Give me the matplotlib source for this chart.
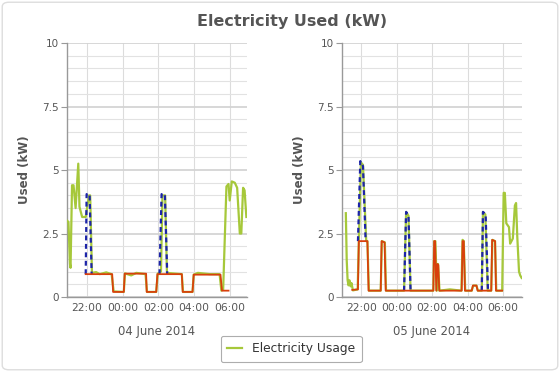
import matplotlib
matplotlib.use('Agg')
import matplotlib.pyplot as plt
import matplotlib.dates as mdates
from matplotlib.patches import FancyBboxPatch
from matplotlib.ticker import MultipleLocator, FixedLocator, FixedFormatter
import numpy as np
import pandas as pd

plt.rcParams['font.family'] = ['DejaVu Sans']

# ---- data (clock times, kW) ----
# night ending 04 June 2014
left_usage_t = ['20:54', '20:58', '21:03', '21:05', '21:10', '21:15', '21:22', '21:31', '21:35',
                '21:44', '21:56', '22:07', '22:11', '22:17', '22:31', '22:43', '23:05', '23:23',
                '23:30', '00:04', '00:08', '00:29', '00:46', '01:17', '01:22', '01:53', '01:58',
                '02:09', '02:14', '02:23', '02:29', '02:49', '03:19', '03:23', '03:55', '03:59',
                '04:13', '04:53', '05:26', '05:32', '05:38', '05:49', '05:56', '06:00', '06:07',
                '06:17', '06:25', '06:34', '06:39', '06:45', '06:50', '06:56']
left_usage_v = [3.0, 2.95, 1.3, 1.15, 4.4, 4.4, 3.5, 5.25, 3.55,
                3.15, 3.15, 4.0, 4.0, 0.95, 0.98, 0.9, 0.97, 0.9,
                0.22, 0.2, 0.93, 0.85, 0.95, 0.9, 0.2, 0.2, 0.92,
                1.0, 4.0, 4.0, 0.95, 0.93, 0.9, 0.2, 0.2, 0.88,
                0.95, 0.9, 0.9, 0.25, 0.3, 4.35, 4.45, 3.8, 4.55,
                4.5, 4.3, 2.5, 2.5, 4.3, 4.2, 3.15]
left_base_t = ['21:56', '23:25', '23:28', '00:04', '00:07', '01:19', '01:21', '01:53', '01:57',
               '03:19', '03:22', '03:55', '03:59', '05:29', '05:34', '05:56']
left_base_v = [0.9, 0.9, 0.2, 0.2, 0.92, 0.92, 0.2, 0.2, 0.9,
               0.9, 0.2, 0.2, 0.88, 0.88, 0.25, 0.25]
left_peak_t = ['21:56', '21:59', '22:09', '22:16', None, '02:04', '02:11', '02:22', '02:30']
left_peak_v = [0.9, 4.05, 4.05, 0.9, None, 0.9, 4.05, 4.05, 0.9]

# night ending 05 June 2014
right_usage_t = ['21:08', '21:11', '21:14', '21:17', '21:20', '21:24', '21:27', '21:32', '21:48',
                 '21:52', '21:59', '22:06', '22:17', '22:21', '22:26', '23:06', '23:10', '23:20',
                 '23:24', '00:25', '00:32', '00:40', '00:47', '02:04', '02:07', '02:11', '02:16',
                 '02:20', '02:25', '03:00', '03:39', '03:43', '03:47', '03:52', '04:14', '04:19',
                 '04:30', '04:35', '04:48', '04:52', '05:00', '05:08', '05:20', '05:24', '05:33',
                 '05:37', '05:57', '06:02', '06:06', '06:11', '06:20', '06:24', '06:33', '06:40',
                 '06:44', '06:48', '06:54', '06:58', '07:03']
right_usage_v = [3.3, 1.45, 0.66, 0.46, 0.66, 0.42, 0.55, 0.26, 0.3,
                 2.2, 5.3, 5.2, 2.2, 2.2, 0.25, 0.25, 2.2, 2.15,
                 0.25, 0.25, 3.35, 3.2, 0.25, 0.25, 2.2, 2.2, 0.25,
                 1.3, 0.25, 0.3, 0.25, 2.25, 2.2, 0.25, 0.25, 0.45,
                 0.45, 0.25, 0.25, 3.35, 3.25, 0.25, 0.25, 2.25, 2.2,
                 0.25, 0.25, 4.1, 4.1, 2.9, 2.75, 2.1, 2.3, 3.6,
                 3.7, 2.4, 1.0, 0.85, 0.75]
right_base_t = ['21:30', '21:49', '21:52', '22:21', '22:25', '23:06', '23:09', '23:19', '23:23',
                '02:04', '02:07', '02:10', '02:14', '02:18', '02:21', '02:24', '03:40', '03:43',
                '03:47', '03:51', '04:14', '04:18', '04:30', '04:34', '05:20', '05:23', '05:33',
                '05:36', '05:57']
right_base_v = [0.28, 0.3, 2.2, 2.2, 0.25, 0.25, 2.2, 2.15, 0.25,
                0.25, 2.2, 2.2, 0.25, 1.3, 1.25, 0.25, 0.25, 2.2,
                2.2, 0.25, 0.25, 0.45, 0.45, 0.25, 0.25, 2.25, 2.2,
                0.25, 0.25]
right_peak_t = ['21:49', '21:57', '22:06', '22:15', None, '00:25', '00:32', '00:40', '00:47',
                None, '04:48', '04:52', '05:01', '05:09']
right_peak_v = [2.2, 5.35, 5.15, 2.2, None, 0.25, 3.35, 3.2, 0.25,
                None, 0.25, 3.35, 3.25, 0.25]

y_ticks = [0, 2.5, 5, 7.5, 10]
y_tick_labels = ['0', '2.5', '5', '7.5', '10']

GREEN = '#a6c83a'
BLUE = '#1c24a8'
RED = '#d8400c'


def to_dates(times, day):
    """'HH:MM' -> datetime; evening hours belong to the previous day"""
    out = []
    end = pd.Timestamp(day)
    for t in times:
        if t is None:
            out.append(pd.NaT)
            continue
        h, m = map(int, t.split(':'))
        d = end - pd.Timedelta(days=1) if h >= 12 else end
        out.append(d + pd.Timedelta(hours=h, minutes=m))
    return pd.to_datetime(out)


def to_vals(vals):
    return np.array([np.nan if v is None else v for v in vals], dtype=float)


fig = plt.figure(figsize=(5.6, 3.72), dpi=100)
fig.patches.append(FancyBboxPatch((0.004, 0.006), 0.992, 0.988, boxstyle='round,pad=0,rounding_size=0.012',
                                  transform=fig.transFigure, facecolor='white', edgecolor='#dddddd',
                                  linewidth=1.0, zorder=-10))

panels = [
    (0.1196, '2014-06-04', left_usage_t, left_usage_v, left_base_t, left_base_v,
     left_peak_t, left_peak_v, ('20:53', '06:58'), '04 June 2014'),
    (0.6107, '2014-06-05', right_usage_t, right_usage_v, right_base_t, right_base_v,
     right_peak_t, right_peak_v, ('20:55', '07:04'), '05 June 2014'),
]

for left, day, ut, uv, bt, bv, pt, pv, lim, xlab in panels:
    ax = fig.add_axes([left, 0.2016, 0.3214, 0.6828])
    line, = ax.plot(to_dates(ut, day), uv, color=GREEN, linewidth=1.6, zorder=3)
    ax.plot(to_dates(pt, day), to_vals(pv), color=BLUE, linewidth=1.6,
            linestyle=(0, (2.2, 1.6)), zorder=4)
    ax.plot(to_dates(bt, day), bv, color=RED, linewidth=1.3, zorder=5)

    lo = to_dates([lim[0]], day)[0]
    hi = to_dates([lim[1]], day)[0]
    ax.set_xlim(lo, hi)
    ax.set_ylim(0, 10)

    ax.xaxis.set_major_locator(mdates.HourLocator(byhour=[22, 0, 2, 4, 6]))
    ax.xaxis.set_major_formatter(mdates.DateFormatter('%H:%M'))
    ax.yaxis.set_major_locator(FixedLocator(y_ticks))
    ax.yaxis.set_major_formatter(FixedFormatter(y_tick_labels))
    ax.yaxis.set_minor_locator(MultipleLocator(0.5))

    ax.grid(True, which='major', axis='y', color='#d4d4d4', linewidth=1.3, zorder=0)
    ax.grid(True, which='minor', axis='y', color='#e2e2e2', linewidth=0.8, zorder=0)
    ax.grid(True, which='major', axis='x', color='#dcdcdc', linewidth=0.8, zorder=0)
    ax.set_axisbelow(True)

    for s in ['top', 'right']:
        ax.spines[s].set_visible(False)
    for s in ['left', 'bottom']:
        ax.spines[s].set_color('#999999')
        ax.spines[s].set_linewidth(1.0)

    ax.tick_params(axis='y', which='major', length=4, color='#999999', labelsize=7.5,
                   labelcolor='#555555', pad=2)
    ax.tick_params(axis='y', which='minor', length=0)
    ax.tick_params(axis='x', length=0, labelsize=7.7, labelcolor='#555555', pad=4)

    ax.set_ylabel('Used (kW)', fontsize=8.5, fontweight='bold', color='#555555')
    ax.yaxis.set_label_coords(-0.2, 0.5)
    ax.set_xlabel(xlab, fontsize=8.4, color='#555555')
    ax.xaxis.set_label_coords(0.5, -0.11)

fig.text(0.521, 0.943, 'Electricity Used (kW)', ha='center', va='center',
         fontsize=11.5, fontweight='bold', color='#555555')

leg = fig.legend([line], ['Electricity Usage'], loc='center', bbox_to_anchor=(0.52, 0.0625),
                 fontsize=8.8, frameon=True, fancybox=True, edgecolor='#999999',
                 handlelength=1.2, handletextpad=0.8, borderpad=0.55, borderaxespad=0)
leg.get_frame().set_linewidth(0.8)
for t in leg.get_texts():
    t.set_color('#333333')

fig.savefig('out.png', dpi=100)
